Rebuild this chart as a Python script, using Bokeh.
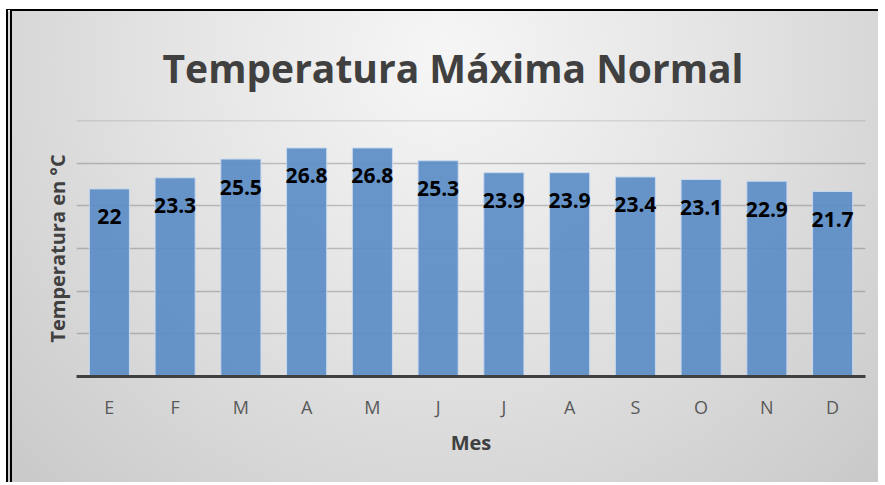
from bokeh.plotting import figure
from bokeh.models import Range1d, FixedTicker, ColumnDataSource
from bokeh.core.properties import value
from bokeh.embed import file_html
from bokeh.resources import INLINE

# ---- data ----
months = ["E", "F", "M", "A", "M", "J", "J", "A", "S", "O", "N", "D"]
temps = [22, 23.3, 25.5, 26.8, 26.8, 25.3, 23.9, 23.9, 23.4, 23.1, 22.9, 21.7]
y_ticks = [0, 5, 10, 15, 20, 25, 30]

positions = list(range(1, len(months) + 1))
labels = [f"{v:g}" for v in temps]

source = ColumnDataSource(dict(x=positions, top=temps, label=labels))

FONT = "Open Sans"

p = figure(
    width=872, height=473,
    output_backend="svg", toolbar_location=None,
    x_range=Range1d(0.5, len(months) + 0.5),
    y_range=Range1d(0, 30.02),
    min_border_left=64, min_border_right=19,
    min_border_top=109, min_border_bottom=108,
    title="Temperatura Máxima Normal",
)

p.styles = {
    "margin-left": "6px",
    "margin-top": "9px",
    "border-left": "6px double #000000",
    "border-top": "2px solid #000000",
    "background": "radial-gradient(ellipse at 50% 10%, #f6f6f6 0%, #e4e4e4 45%, #c9c9c9 100%)",
}
p.border_fill_color = None
p.background_fill_color = None
p.outline_line_color = None

# title
p.title.align = "left"
p.title.offset = 86
p.title.vertical_align = "middle"
p.title.standoff = 52
p.title.text_font = FONT
p.title.text_font_size = "39px"
p.title.text_font_style = "bold"
p.title.text_color = "#404040"

# bars
p.vbar(x="x", top="top", width=0.61, bottom=0, source=source,
       fill_color="#5b8cc6", fill_alpha=0.92,
       line_color="#c8d9ee", line_width=1)

# data labels
p.text(x="x", y="top", text="label", source=source,
       text_font=value(FONT), text_font_size="21px", text_font_style="bold",
       text_color="black", text_align="center", text_baseline="middle",
       y_offset=28)

# grid
p.xgrid.grid_line_color = None
p.ygrid.ticker = FixedTicker(ticks=y_ticks)
p.ygrid.grid_line_color = "#000000"
p.ygrid.grid_line_alpha = 0.2
p.ygrid.grid_line_width = 1.5

# x axis
p.xaxis.ticker = FixedTicker(ticks=positions)
p.xaxis.major_label_overrides = {i: m for i, m in zip(positions, months)}
p.xaxis.axis_line_color = "#404040"
p.xaxis.axis_line_width = 3
p.xaxis.major_tick_line_color = None
p.xaxis.minor_tick_line_color = None
p.xaxis.major_label_text_font = FONT
p.xaxis.major_label_text_font_size = "18px"
p.xaxis.major_label_text_color = "#595959"
p.xaxis.major_label_standoff = 12
p.xaxis.axis_label = "Mes"
p.xaxis.axis_label_text_font = FONT
p.xaxis.axis_label_text_font_size = "20px"
p.xaxis.axis_label_text_font_style = "bold"
p.xaxis.axis_label_text_color = "#404040"
p.xaxis.axis_label_standoff = 7

# y axis (no tick labels; only the title)
p.yaxis.ticker = FixedTicker(ticks=[])
p.yaxis.major_tick_line_color = None
p.yaxis.minor_tick_line_color = None
p.yaxis.axis_line_color = None
p.yaxis.axis_label = "Temperatura en °C"
p.yaxis.axis_label_text_font = FONT
p.yaxis.axis_label_text_font_size = "20px"
p.yaxis.axis_label_text_font_style = "bold"
p.yaxis.axis_label_text_color = "#404040"
p.yaxis.axis_label_standoff = 6

open("out.html", "w").write(file_html(p, INLINE))
